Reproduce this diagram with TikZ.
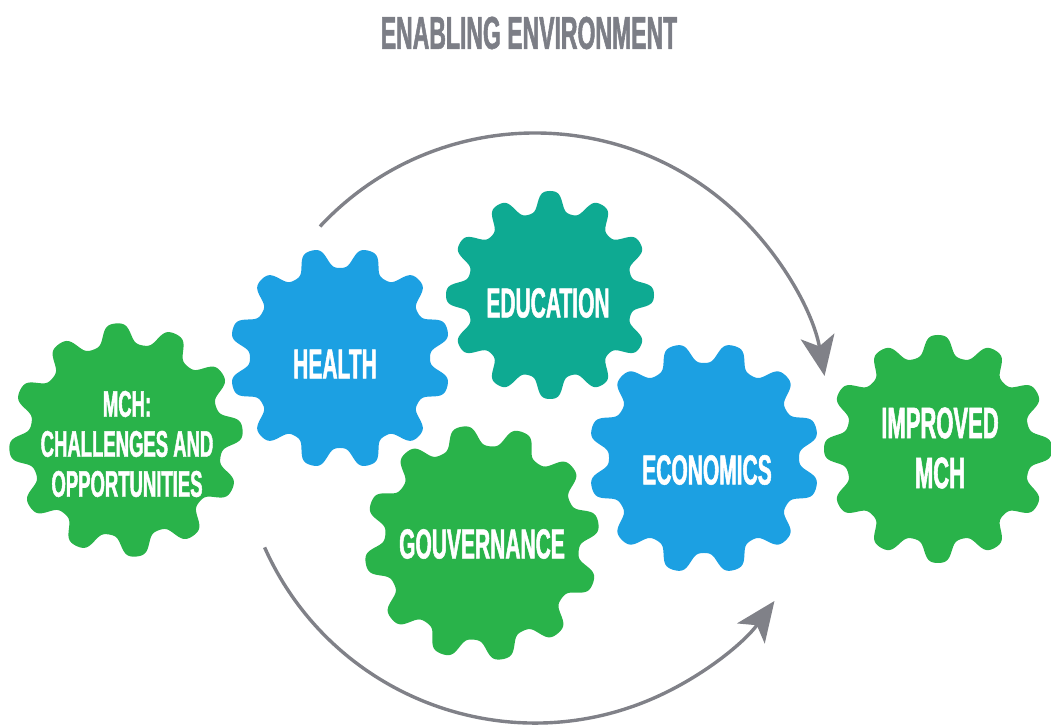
\documentclass[tikz,border=0pt]{standalone}
\usepackage{fontspec}
\newfontfamily\gearfont[FakeStretch=0.5,FakeBold=1.2]{Liberation Sans}
\usetikzlibrary{arrows.meta}
\definecolor{ggreen}{RGB}{41,179,74}
\definecolor{gblue}{RGB}{28,160,226}
\definecolor{gteal}{RGB}{14,170,146}
\definecolor{garrow}{RGB}{128,129,136}
\definecolor{gtitle}{RGB}{124,126,134}
\tikzset{
  geartext/.style={text=white, align=center, inner sep=0pt},
  cycarrow/.style={draw=garrow, line width=3.4pt, -{Stealth[length=40pt,width=34pt,inset=10pt]}},
}
% gear body: x, y, outer radius, phase, colour
\newcommand\gearbody[5]{%
  \fill[#5, shift={(#1,#2)}] plot[domain=0:360, samples=721]
    (\x:{#3-10.5+10.5*tanh(1.6*cos(12*(\x-#4)))/0.9217}) -- cycle;
}
\begin{document}
\begin{tikzpicture}[x=1pt,y=1pt]
\useasboundingbox (0,0) rectangle (1051,727);
% title
\node[text=gtitle, inner sep=0pt, font=\gearfont\bfseries\fontsize{46}{50}\selectfont] (title) at (529,694) {ENABLING ENVIRONMENT};
% cycle arrows
\coordinate (cc) at (535,300);
\draw[cycarrow] ([shift={(137:294)}]cc) arc[start angle=137, end angle=10, radius=294];
\draw[cycarrow] ([shift={(204:296)}]cc) arc[start angle=204, end angle=324, radius=296];
% gears
\gearbody{126}{287}{117}{5}{ggreen}
\gearbody{340}{369}{111}{15}{gblue}
\gearbody{550}{432}{104}{0}{gteal}
\gearbody{482}{184}{118}{10}{ggreen}
\gearbody{704}{269}{116}{15}{gblue}
\gearbody{938}{278}{114}{0}{ggreen}
% texts
\node[geartext, font=\gearfont\bfseries\fontsize{37}{40}\selectfont] (mch) at (127,283) {MCH:\\CHALLENGES AND\\OPPORTUNITIES};
\node[geartext, font=\gearfont\bfseries\fontsize{42}{46}\selectfont] (health) at (335,363) {HEALTH};
\node[geartext, font=\gearfont\bfseries\fontsize{42}{46}\selectfont] (education) at (548,424) {EDUCATION};
\node[geartext, font=\gearfont\bfseries\fontsize{42}{46}\selectfont] (gouv) at (482,183) {GOUVERNANCE};
\node[geartext, font=\gearfont\bfseries\fontsize{42}{46}\selectfont] (econ) at (707,257) {ECONOMICS};
\node[geartext, font=\gearfont\bfseries\fontsize{44}{50}\selectfont] (improved) at (940,279) {IMPROVED\\MCH};
\end{tikzpicture}
\end{document}
